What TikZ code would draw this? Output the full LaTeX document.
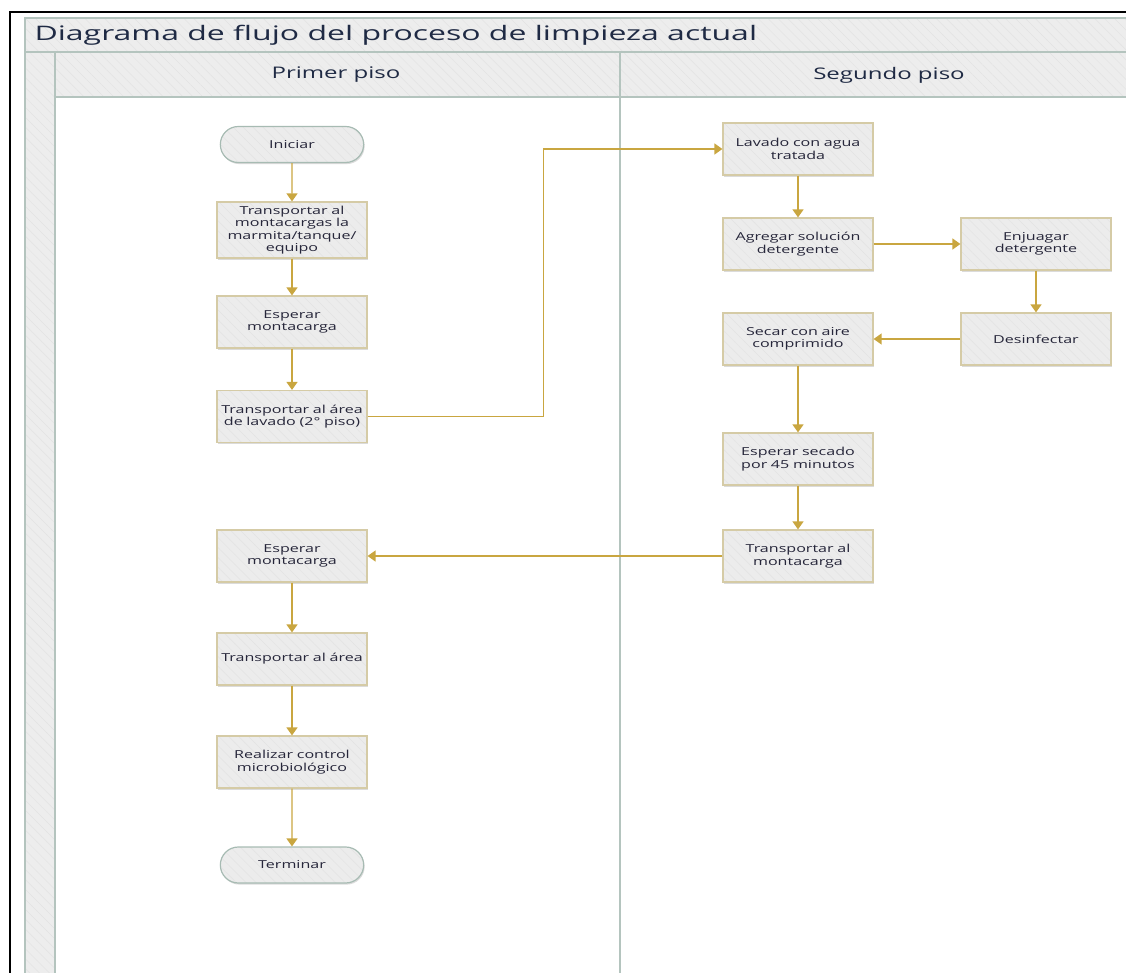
\documentclass[tikz,border=0pt]{standalone}
\usepackage{fontspec}
\setmainfont{Open Sans}[FakeStretch=1.46]
\newfontfamily\titlefont{Open Sans}[FakeStretch=1.6]
\newfontfamily\lanefont{Open Sans}[FakeStretch=1.5]
\usetikzlibrary{arrows.meta,patterns.meta,shapes.misc}

\definecolor{hdrfill}{HTML}{EDEDED}
\definecolor{hatch}{HTML}{E3E3E3}
\definecolor{laneline}{HTML}{B4C4BE}
\definecolor{boxfill}{HTML}{ECECEC}
\definecolor{boxline}{HTML}{D5CBA6}
\definecolor{termline}{HTML}{A7BBB3}
\definecolor{flowcol}{HTML}{C9A640}
\definecolor{titletext}{HTML}{1F2A44}
\definecolor{boxtext}{HTML}{26263A}

\tikzset{
  hatched/.style={preaction={fill=#1}, pattern={Lines[angle=-45,distance=7pt,line width=0.5pt]}, pattern color=hatch},
  softshadow/.style={preaction={fill=black!14, transform canvas={shift={(1pt,-1.6pt)}}}},
  proc/.style={rectangle, softshadow, hatched=boxfill, draw=boxline, line width=1.2pt,
    minimum width=150pt, minimum height=52pt, text width=144pt, align=center,
    inner sep=2pt, text=boxtext, font=\fontsize{11}{12.5}\selectfont},
  term/.style={rounded rectangle, softshadow, hatched=boxfill, draw=termline, line width=1.2pt,
    minimum width=150pt, minimum height=36pt, align=center,
    text=boxtext, font=\fontsize{11}{12.5}\selectfont},
  flow/.style={draw=flowcol, line width=1.4pt, -{Triangle[length=8pt,width=11pt]}},
  lane/.style={draw=laneline, line width=1.2pt},
}

\begin{document}
\begin{tikzpicture}[x=1pt,y=-1pt]
\useasboundingbox (0,0) rectangle (1126,973);

% pool header, lane headers and the side strip
\path[hatched=hdrfill] (25,18) rectangle (1160,52);
\path[hatched=hdrfill] (25,52) rectangle (55,973);
\path[hatched=hdrfill] (55,52) rectangle (1160,97);
\draw[lane] (1160,18) -- (25,18) -- (25,973);
\draw[lane] (25,52) -- (1160,52);
\draw[lane] (55,97) -- (1160,97);
\draw[lane] (55,52) -- (55,973);
\draw[lane] (620,52) -- (620,973);

% outer frame
\draw[black, line width=2pt] (10,975) -- (10,12) -- (1130,12);

\node[anchor=west, text=titletext, font=\titlefont\fontsize{20}{24}\selectfont] (title) at (31,35) {Diagrama de flujo del proceso de limpieza actual};
\node[text=titletext, font=\lanefont\fontsize{16}{19}\selectfont] (lane1) at (336,75) {Primer piso};
\node[text=titletext, font=\lanefont\fontsize{16}{19}\selectfont] (lane2) at (889,75) {Segundo piso};

% first floor
\node[term] (ini) at (292,144.5) {Iniciar};
\node[proc, minimum height=56pt] (t1) at (292,230) {Transportar al\\montacargas la\\marmita/tanque/\\equipo};
\node[proc] (e1) at (292,322) {Esperar\\montacarga};
\node[proc] (t2) at (292,416.5) {Transportar al área\\de lavado (2° piso)};
\node[proc] (e2) at (292,556) {Esperar\\montacarga};
\node[proc] (t3) at (292,659) {Transportar al área};
\node[proc] (rc) at (292,762) {Realizar control\\microbiológico};
\node[term] (fin) at (292,865) {Terminar};

% second floor
\node[proc] (lav) at (798,149) {Lavado con agua\\tratada};
\node[proc] (agr) at (798,244) {Agregar solución\\detergente};
\node[proc] (enj) at (1036,244) {Enjuagar\\detergente};
\node[proc] (des) at (1036,339) {Desinfectar};
\node[proc] (sec) at (798,339) {Secar con aire\\comprimido};
\node[proc] (esp) at (798,459) {Esperar secado\\por 45 minutos};
\node[proc] (tmc) at (798,556) {Transportar al\\montacarga};

% connectors
\draw[flow] (ini) -- (t1);
\draw[flow] (t1) -- (e1);
\draw[flow] (e1) -- (t2);
\draw[flow] (t2.east) -- ++(176,0) |- (lav.west);
\draw[flow] (lav) -- (agr);
\draw[flow] (agr) -- (enj);
\draw[flow] (enj) -- (des);
\draw[flow] (des) -- (sec);
\draw[flow] (sec) -- (esp);
\draw[flow] (esp) -- (tmc);
\draw[flow] (tmc) -- (e2);
\draw[flow] (e2) -- (t3);
\draw[flow] (t3) -- (rc);
\draw[flow] (rc) -- (fin);
\end{tikzpicture}
\end{document}
